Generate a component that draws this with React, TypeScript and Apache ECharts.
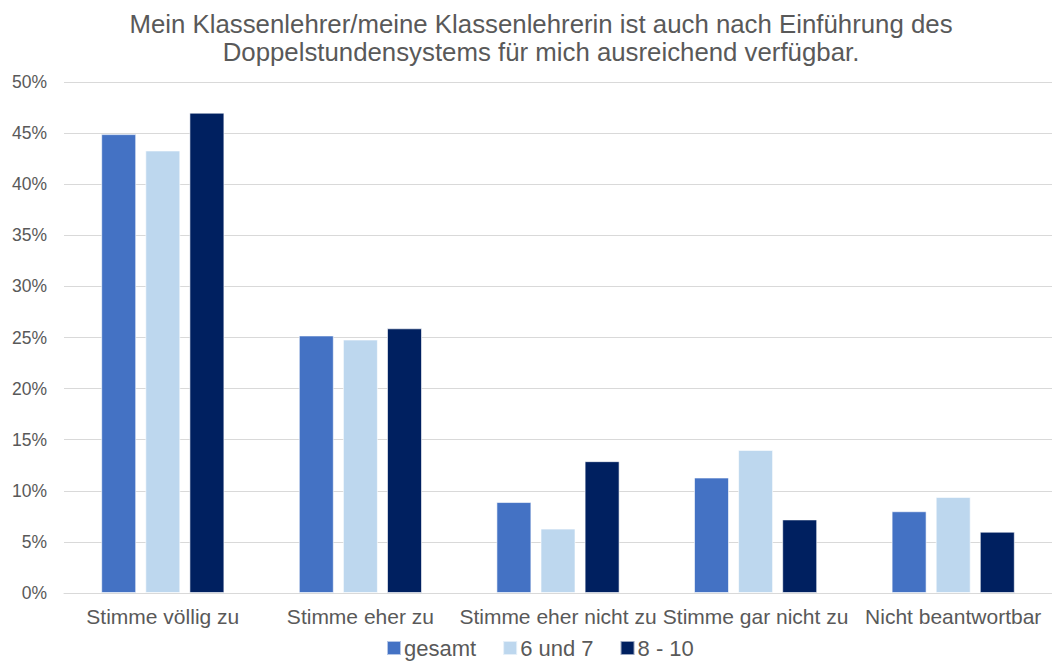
import React, { useEffect, useRef } from "react";
import * as echarts from "echarts";

const titleText =
  "Mein Klassenlehrer/meine Klassenlehrerin ist auch nach Einführung des\nDoppelstundensystems für mich ausreichend verfügbar.";
const categories = [
  "Stimme völlig zu",
  "Stimme eher zu",
  "Stimme eher nicht zu",
  "Stimme gar nicht zu",
  "Nicht beantwortbar",
];
const seriesNames = ["gesamt", "6 und 7", "8 - 10"];
const gesamt = [44.9, 25.2, 8.9, 11.3, 8.0];
const klasse67 = [43.3, 24.8, 6.3, 14.0, 9.4];
const klasse810 = [47.0, 25.9, 12.9, 7.2, 6.0];
const colors = ["#4472C4", "#BDD7EE", "#002060"];

const FONT = "Liberation Sans, Arial, Helvetica, sans-serif";

export default function App() {
  const ref = useRef<HTMLDivElement>(null);
  useEffect(() => {
    if (!ref.current) return;
    const chart = echarts.init(ref.current, undefined, { renderer: "svg" });
    const values = [gesamt, klasse67, klasse810];
    chart.setOption({
      animation: false,
      backgroundColor: "#ffffff",
      textStyle: { fontFamily: FONT },
      title: {
        text: titleText,
        left: 536,
        textAlign: "center",
        top: 5,
        textStyle: {
          fontFamily: FONT,
          fontSize: 25.8,
          fontWeight: "normal",
          color: "#595959",
          lineHeight: 28,
          align: "center",
        },
      },
      legend: {
        data: seriesNames,
        bottom: 2,
        left: 381,
        icon: "rect",
        itemWidth: 14,
        itemHeight: 14,
        itemGap: 26,
        textStyle: { fontFamily: FONT, fontSize: 22, color: "#595959", padding: [0, 0, 0, -2] },
      },
      grid: { left: 64, right: -2, top: 82, bottom: 73, containLabel: false },
      xAxis: {
        type: "category",
        data: categories,
        axisLine: { lineStyle: { color: "#d9d9d9", width: 1 } },
        axisTick: { show: false },
        axisLabel: {
          fontFamily: FONT,
          fontSize: 21,
          color: "#595959",
          margin: 13,
          interval: 0,
        },
      },
      yAxis: {
        type: "value",
        min: 0,
        max: 50,
        interval: 5,
        axisLine: { show: false },
        axisTick: { show: false },
        splitLine: { lineStyle: { color: "#d9d9d9", width: 1 } },
        axisLabel: {
          fontFamily: FONT,
          fontSize: 17.5,
          color: "#595959",
          margin: 17,
          formatter: (v: number) => `${v}%`,
        },
      },
      series: seriesNames.map((name, i) => ({
        name,
        type: "bar",
        data: values[i],
        barWidth: 35,
        barGap: "26%",
        itemStyle: { color: colors[i], borderColor: "rgba(255,255,255,0.6)", borderWidth: 1 },
      })),
    });
    return () => chart.dispose();
  }, []);
  return (
    <div
      ref={ref}
      style={{ position: "fixed", left: 0, top: 0, width: 1052, height: 666 }}
    />
  );
}
